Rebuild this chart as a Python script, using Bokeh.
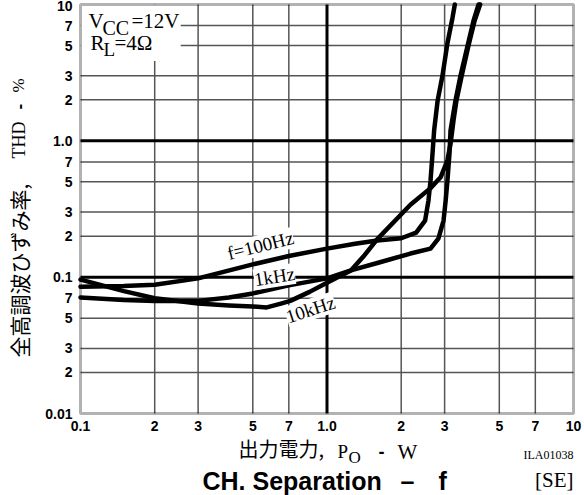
from bokeh.plotting import figure
from bokeh.models import (FixedTicker, Label, Range1d, BoxAnnotation,
                          ColumnDataSource, CustomJSTickFormatter)
from bokeh.embed import file_html
from bokeh.resources import INLINE

# ---------------- data ----------------
x_ticks = [0.1, 0.2, 0.3, 0.5, 0.7, 1.0, 2.0, 3.0, 5.0, 7.0, 10.0]
x_tick_labels = ["0.1", "2", "3", "5", "7", "1.0", "2", "3", "5", "7", "10"]
y_ticks = [0.01, 0.02, 0.03, 0.05, 0.07, 0.1, 0.2, 0.3, 0.5, 0.7,
           1.0, 2.0, 3.0, 5.0, 7.0, 10.0]
y_tick_labels = ["0.01", "2", "3", "5", "7", "0.1", "2", "3", "5", "7",
                 "1.0", "2", "3", "5", "7", "10"]
x_minor_grid = [0.2, 0.3, 0.5, 0.7, 2.0, 3.0, 5.0, 7.0]
x_major_grid = [1.0]
y_minor_grid = [0.02, 0.03, 0.05, 0.07, 0.2, 0.3, 0.5, 0.7, 2.0, 3.0, 5.0, 7.0]
y_major_grid = [0.1, 1.0]
x_lim = [0.1, 10.0]
y_lim = [0.01, 10.0]

power_100hz = [0.1, 0.15, 0.2, 0.3, 0.5, 0.7, 1.0, 1.3, 1.6, 2.0, 2.3, 2.5,
               2.58, 2.63, 2.68, 2.72, 2.81, 2.94, 3.08, 3.23, 3.3]
thd_100hz = [0.085, 0.086, 0.088, 0.098, 0.124, 0.143, 0.162, 0.176, 0.186,
             0.193, 0.212, 0.26, 0.365, 0.51, 0.81, 1.19, 1.97, 3.0, 5.2, 8.0, 10.0]

power_1khz = [0.1, 0.15, 0.2, 0.3, 0.4, 0.5, 0.7, 1.0, 1.25, 1.6, 2.18, 2.63,
              2.83, 2.97, 3.03, 3.08, 3.14, 3.17, 3.32, 3.48, 3.72, 3.93, 4.12]
thd_1khz = [0.071, 0.068, 0.067, 0.067, 0.071, 0.076, 0.087, 0.098, 0.112,
            0.127, 0.149, 0.162, 0.192, 0.26, 0.365, 0.51, 0.81, 1.19, 1.97,
            3.0, 5.0, 7.6, 10.0]

power_10khz = [0.1, 0.15, 0.2, 0.3, 0.4, 0.5, 0.57, 0.65, 0.71, 0.85, 1.0,
               1.25, 1.42, 1.6, 2.18, 2.63, 2.89, 3.08, 3.17, 3.26, 3.35, 3.52,
               3.75, 3.97, 4.18]
thd_10khz = [0.096, 0.079, 0.070, 0.064, 0.062, 0.061, 0.060, 0.064, 0.067,
             0.078, 0.091, 0.112, 0.145, 0.19, 0.34, 0.45, 0.54, 0.72, 0.95,
             1.41, 1.97, 3.0, 5.0, 7.6, 10.0]

SERIF = "Liberation Serif"
SANS = "Liberation Sans"
CJK = "Noto Sans CJK JP"

# canvas geometry: plot box at x 80..573, y 4..413 of a 584x495 canvas
W, H = 584, 495
L_PX, R_PX, T_PX, B_PX = 80, 573, 4, 413
xdec = (R_PX - L_PX) / 2.0
ydec = (B_PX - T_PX) / 3.0
x_start = 10 ** (-1 - L_PX / xdec)
x_end = 10 ** (1 + (W - R_PX) / xdec)
y_end = 10 ** (1 + T_PX / ydec)
y_start = 10 ** (-2 - (H - B_PX) / ydec)

p = figure(width=W, height=H, x_axis_type="log", y_axis_type="log",
           x_range=Range1d(x_start, x_end), y_range=Range1d(y_start, y_end),
           output_backend="svg", toolbar_location=None,
           min_border=0, min_border_left=0, min_border_right=0,
           min_border_top=0, min_border_bottom=0)
p.outline_line_color = None
p.background_fill_color = "white"
p.border_fill_color = "white"
p.xgrid.visible = False
p.ygrid.visible = False

fmt_code = """
const lt = Math.log10(tick);
for (let i = 0; i < tvals.length; i++) {
  if (Math.abs(Math.log10(tvals[i]) - lt) < 1e-6) return tlabels[i];
}
return "";
"""
for ax, tv, tl, loc, so in ((p.xaxis[0], x_ticks, x_tick_labels, y_lim[0], 7),
                            (p.yaxis[0], y_ticks, y_tick_labels, x_lim[0], 8)):
    ax.fixed_location = loc
    ax.ticker = FixedTicker(ticks=tv, minor_ticks=[])
    ax.formatter = CustomJSTickFormatter(args=dict(tvals=tv, tlabels=tl),
                                         code=fmt_code)
    ax.axis_line_color = None
    ax.major_tick_line_color = None
    ax.minor_tick_line_color = None
    ax.major_tick_out = 0
    ax.major_tick_in = 0
    ax.minor_tick_out = 0
    ax.minor_tick_in = 0
    ax.major_label_text_font = SANS
    ax.major_label_text_font_style = "bold"
    ax.major_label_text_font_size = "14px"
    ax.major_label_text_color = "black"
    ax.major_label_standoff = so


# grid lines (limited to the plot box)
def vgrid(xs, color, width):
    p.segment(x0=xs, y0=[y_lim[0]] * len(xs), x1=xs, y1=[y_lim[1]] * len(xs),
              line_color=color, line_width=width, level="underlay")


def hgrid(ys, color, width):
    p.segment(x0=[x_lim[0]] * len(ys), y0=ys, x1=[x_lim[1]] * len(ys), y1=ys,
              line_color=color, line_width=width, level="underlay")


vgrid(x_minor_grid, "#555555", 1.5)
hgrid(y_minor_grid, "#555555", 1.5)
vgrid(x_major_grid, "black", 3)
hgrid(y_major_grid, "black", 3)

# white box behind the condition text
p.add_layout(BoxAnnotation(left=0.1, right=0.255, top=10, bottom=3.85,
                           fill_color="white", fill_alpha=1.0,
                           line_color=None, level="glyph"))

# curve labels (white background)
for txt, lx, ly, ang in (("f=100Hz", 0.537, 0.171, 14),
                         ("1kHz", 0.612, 0.101, 9),
                         ("10kHz", 0.857, 0.058, 18)):
    p.add_layout(Label(x=lx, y=ly, text=txt, angle=ang, angle_units="deg",
                       text_align="center", text_baseline="middle",
                       text_font=SERIF, text_font_size="19px",
                       text_color="black", background_fill_color="white",
                       level="glyph"))

# curves
for px_, ty in ((power_100hz, thd_100hz), (power_1khz, thd_1khz),
                (power_10khz, thd_10khz)):
    src = ColumnDataSource(data=dict(x=px_, y=ty))
    p.line("x", "y", source=src, line_color="black", line_width=4.5,
           line_join="round", line_cap="round")

# plot box border
p.add_layout(BoxAnnotation(left=x_lim[0], right=x_lim[1], bottom=y_lim[0],
                           top=y_lim[1], fill_color=None, line_color="black",
                           line_width=3))


def lab(text, px, py, font=SERIF, size="20px", align="left", style="normal",
        angle=0):
    # (px, py): left/right edge and vertical centre, in canvas pixels
    p.add_layout(Label(x=px, y=H - py, x_units="screen", y_units="screen",
                       text=text, text_font=font, text_font_size=size,
                       text_font_style=style, text_align=align,
                       text_baseline="middle", angle=angle,
                       angle_units="deg", text_color="black"))


# condition text (top-left)
lab("V", 88, 20, size="21px")
lab("CC", 102, 27, size="20px")
lab("=12V", 131, 20, size="21px")
lab("R", 90, 42, size="21px")
lab("L", 103, 49, size="19px")
lab("=4\u03a9", 114, 42, size="21px")

# x axis title
lab("出力電力,", 238, 448, font=CJK, size="20px")
lab("P", 337, 451, size="19px")
lab("O", 348, 457, size="17px")
lab("-", 378, 451, font=SANS, size="18px", style="bold")
lab("W", 397, 451, size="21px")

# y axis title (rotated)
lab("全高調波ひずみ率,", 18, 357, font=CJK, size="21px", angle=90)
lab("THD", 18, 158, size="18px", angle=90)
lab("-", 18, 109, font=SANS, size="17px", style="bold", angle=90)
lab("%", 18, 92, size="17px", angle=90)

# footer texts
lab("ILA01038", 573, 454, size="12px", align="right")
lab("CH. Separation", 202, 480, font=SANS, size="25px", style="bold")
lab("\u2013", 400, 480, font=SANS, size="25px", style="bold")
lab("f", 438, 480, font=SANS, size="25px", style="bold")
lab("[SE]", 573, 479, size="21px", align="right")

open("out.html", "w").write(file_html(p, INLINE))
